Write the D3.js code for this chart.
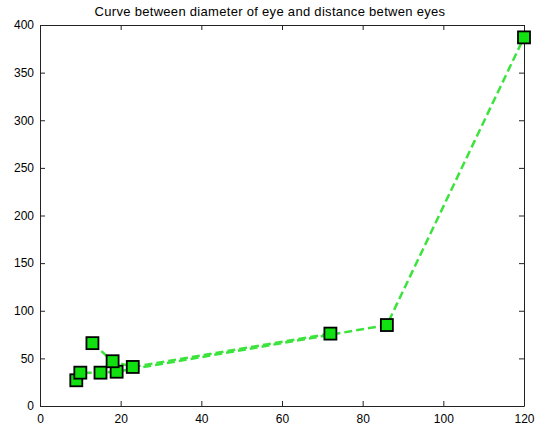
<!DOCTYPE html>
<html>
<head>
<meta charset="utf-8">
<script src="https://cdn.jsdelivr.net/npm/d3@7"></script>
<style>
  body { margin: 0; background: #fff; }
  svg text { font-family: "Liberation Sans", Arial, sans-serif; fill: #000; }
</style>
</head>
<body>
<div id="chart"></div>
<script>
// values
const title = 'Curve between diameter of eye and distance betwen eyes'
const xTicks = [0, 20, 40, 60, 80, 100, 120]
const yTicks = [0, 50, 100, 150, 200, 250, 300, 350, 400]
// two dashed runs of the plot
const seriesAx = [9, 10, 15, 19, 86, 120]
const seriesAy = [27, 35, 35, 36, 85, 387]
const seriesBx = [13, 18, 23, 72]
const seriesBy = [66, 47, 41, 76]

const width = 543, height = 429
const m = { top: 25, right: 19, bottom: 23, left: 40 }

const svg = d3.select('#chart').append('svg')
  .attr('width', width).attr('height', height)

const x = d3.scaleLinear().domain([0, 120]).range([m.left, width - m.right])
const y = d3.scaleLinear().domain([0, 400]).range([height - m.bottom, m.top])

// title
svg.append('text')
  .attr('x', 270).attr('y', 16)
  .attr('text-anchor', 'middle')
  .style('font-size', '13px')
  .style('letter-spacing', '0.3px')
  .text(title)

// axes, matlab style: ticks pointing in, box all round
const tk = 5
svg.append('g').attr('transform', `translate(0,${y(0)})`)
  .call(d3.axisBottom(x).tickValues(xTicks).tickSizeInner(-tk).tickSizeOuter(0).tickPadding(8))
svg.append('g').attr('transform', `translate(0,${y(400)})`)
  .call(d3.axisTop(x).tickValues(xTicks).tickSizeInner(-tk).tickSizeOuter(0).tickFormat(''))
svg.append('g').attr('transform', `translate(${x(0)},0)`)
  .call(d3.axisLeft(y).tickValues(yTicks).tickSizeInner(-tk).tickSizeOuter(0).tickPadding(6))
svg.append('g').attr('transform', `translate(${x(120)},0)`)
  .call(d3.axisRight(y).tickValues(yTicks).tickSizeInner(-tk).tickSizeOuter(0).tickFormat(''))

svg.selectAll('.domain').attr('stroke', '#222')
svg.selectAll('.tick line').attr('stroke', '#222')
svg.selectAll('.tick text').style('font-size', '12px').attr('fill', '#111')

const line = d3.line().x(d => x(d[0])).y(d => y(d[1]))
const runs = [
  d3.zip(seriesAx, seriesAy),
  d3.zip(seriesBx, seriesBy)
]

svg.append('g').selectAll('path').data(runs).join('path')
  .attr('d', line)
  .attr('fill', 'none')
  .attr('stroke', '#3de33d')
  .attr('stroke-width', 2.5)
  .attr('stroke-dasharray', '8,4')

const s = 12
svg.append('g').selectAll('rect').data(runs.flat()).join('rect')
  .attr('x', d => x(d[0]) - s / 2)
  .attr('y', d => y(d[1]) - s / 2)
  .attr('width', s).attr('height', s)
  .attr('fill', '#11e011')
  .attr('stroke', '#000')
  .attr('stroke-width', 1.8)
</script>
</body>
</html>
